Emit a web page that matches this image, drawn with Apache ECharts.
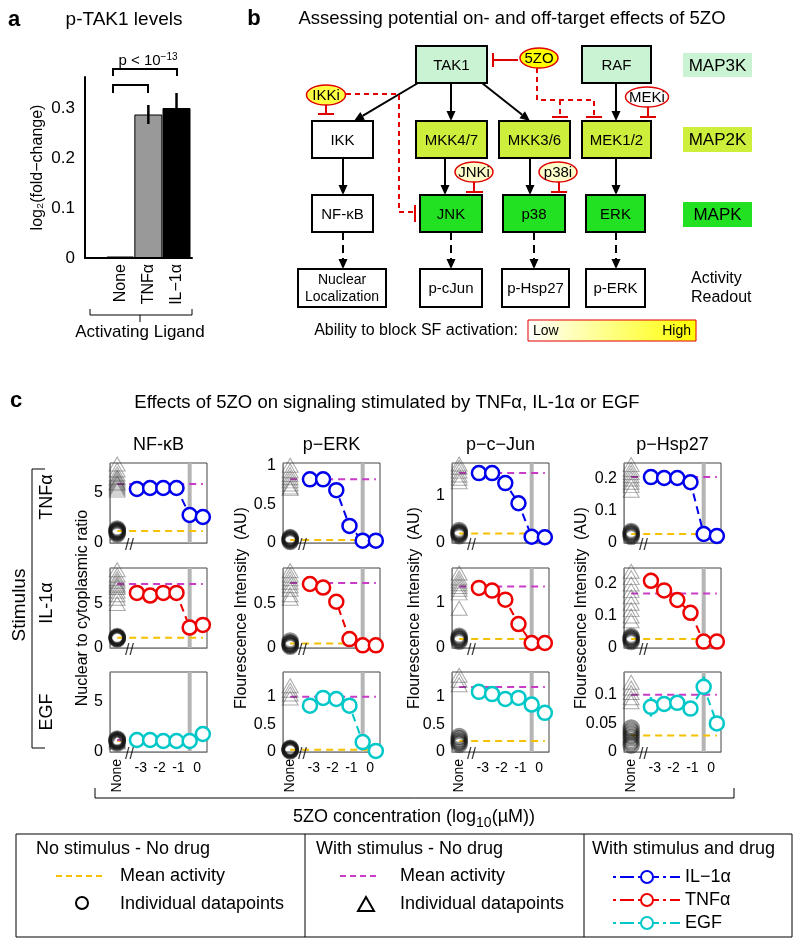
<!DOCTYPE html>
<html><head><meta charset="utf-8">
<script src="https://cdn.jsdelivr.net/npm/echarts@6/dist/echarts.min.js"></script>
<style>html,body{margin:0;padding:0;background:#fff}#c{width:798px;height:947px}</style>
</head><body><div id="c"></div>
<script>
const FONT = '"Liberation Sans", Arial, Helvetica, sans-serif';

// ---------------- Panel a data ----------------
const ligandLabels = ['None', 'TNFα', 'IL−1α'];
const ligandPos = [1, 2, 3];
const tak1Mean = [0.003, 0.287, 0.300];
const tak1Err = [0, 0.019, 0.030];
const tak1YTicks = [0, 0.1, 0.2, 0.3];

// ---------------- Panel c data ----------------
const readoutNames = ['NF-κB', 'p−ERK', 'p−c−Jun', 'p−Hsp27'];
const stimulusNames = ['TNFα', 'IL-1α', 'EGF'];
const doseLog10 = [-3.2, -2.5, -1.8, -1.1, -0.4, 0.3];
const noneX = -4.25;
const breakX = -3.6;
const chosenDose = -0.4;
const doseTicks = [-3, -2, -1, 0];

// drug response (rows: TNFα, IL-1α, EGF)
const respNFkB = [[5.4, 5.5, 5.5, 5.5, 2.8, 2.6], [6.2, 5.9, 6.2, 6.2, 2.3, 2.6], [1.2, 1.2, 1.1, 1.1, 1.1, 1.8]];
const respPERK = [[0.82, 0.82, 0.68, 0.22, 0.03, 0.03], [0.72, 0.68, 0.52, 0.10, 0.03, 0.03], [0.84, 0.98, 0.96, 0.84, 0.18, 0.02]];
const respPJun = [[1.46, 1.46, 1.25, 0.83, 0.13, 0.12], [1.33, 1.27, 1.07, 0.53, 0.11, 0.11], [1.09, 1.05, 0.96, 0.98, 0.86, 0.71]];
const respPHsp = [[0.206, 0.203, 0.203, 0.19, 0.028, 0.022], [0.21, 0.18, 0.15, 0.11, 0.02, 0.02], [0.079, 0.084, 0.086, 0.076, 0.114, 0.05]];

// with stimulus - no drug : mean and individual points
const stimMeanNFkB = [5.9, 7.2, 1.2];
const stimMeanPERK = [0.82, 0.73, 1.0];
const stimMeanPJun = [1.46, 1.36, 1.18];
const stimMeanPHsp = [0.206, 0.17, 0.1];
const stimPtsNFkB = [[7.9, 7.3, 6.9, 6.6, 6.3, 6.1, 5.9, 5.7, 5.5, 5.3, 6.0, 6.5], [8.8, 8.2, 7.8, 7.5, 7.2, 7.0, 6.8, 6.4, 6.0, 5.6, 5.0], [1.3, 1.2, 1.1, 1.0]];
const stimPtsPERK = [[1.0, 0.93, 0.88, 0.84, 0.80, 0.76, 0.72, 0.70], [0.87, 0.82, 0.78, 0.74, 0.70, 0.66, 0.60, 0.56], [1.2, 1.12, 1.05, 0.98]];
const stimPtsPJun = [[1.65, 1.58, 1.5, 1.42, 1.35, 1.28], [1.66, 1.55, 1.48, 1.42, 1.36, 1.3, 1.22, 0.88], [1.39, 1.3, 1.22]];
const stimPtsPHsp = [[0.245, 0.23, 0.22, 0.21, 0.20, 0.19, 0.18, 0.165], [0.24, 0.22, 0.2, 0.18, 0.16, 0.14, 0.12, 0.1, 0.085], [0.122, 0.112, 0.104, 0.095, 0.088]];

// no stimulus - no drug : mean and individual points
const baseMeanNFkB = [1.2, 1.15, 1.1];
const baseMeanPERK = [0.04, 0.05, 0.04];
const baseMeanPJun = [0.2, 0.2, 0.2];
const baseMeanPHsp = [0.028, 0.028, 0.029];
const basePtsNFkB = [[1.4, 1.3, 1.2, 1.1, 1.0, 0.9, 1.2], [1.3, 1.2, 1.1, 1.0, 1.2, 1.1], [1.3, 1.2, 1.1, 1.0, 0.9, 1.2]];
const basePtsPERK = [[0.07, 0.06, 0.05, 0.04, 0.03, 0.02], [0.08, 0.06, 0.05, 0.04, 0.03, 0.02], [0.07, 0.06, 0.05, 0.04, 0.03, 0.02]];
const basePtsPJun = [[0.26, 0.23, 0.2, 0.18, 0.15, 0.21], [0.26, 0.23, 0.2, 0.18, 0.15], [0.28, 0.24, 0.2, 0.17, 0.14]];
const basePtsPHsp = [[0.036, 0.032, 0.028, 0.024, 0.02], [0.036, 0.032, 0.028, 0.024, 0.02], [0.042, 0.036, 0.03, 0.025, 0.018, 0.012]];

// error bars: [dose index, low, high]
const errNFkB = [[], [[0, 5.6, 6.6]], []];
const errPERK = [[], [], [[0, 0.72, 0.86]]];
const errPJun = [[], [], []];
const errPHsp = [[[1, 0.19, 0.216]], [[0, 0.2, 0.235]], [[0, 0.062, 0.096], [4, 0.1, 0.132]]];

// axis ranges and ticks
const yMaxNFkB = [8, 9, 8], yTicksNFkB = [[0, 5], [0, 5], [0, 5]];
const yMaxPERK = [1.03, 0.9, 1.45], yTicksPERK = [[0, 0.5, 1], [0, 0.5], [0, 0.5, 1]];
const yMaxPJun = [1.67, 1.77, 1.45], yTicksPJun = [[0, 1], [0, 1], [0, 0.5, 1]];
const yMaxPHsp = [0.25, 0.25, 0.14], yTicksPHsp = [[0, 0.1, 0.2], [0, 0.1, 0.2], [0, 0.05, 0.1]];
const yAxisNames = ['Nuclear to cytoplasmic ratio', 'Flourescence Intensity  (AU)', 'Flourescence Intensity  (AU)', 'Flourescence Intensity  (AU)'];

const readouts = [
  {resp: respNFkB, sm: stimMeanNFkB, sp: stimPtsNFkB, bm: baseMeanNFkB, bp: basePtsNFkB, err: errNFkB, ymax: yMaxNFkB, yt: yTicksNFkB},
  {resp: respPERK, sm: stimMeanPERK, sp: stimPtsPERK, bm: baseMeanPERK, bp: basePtsPERK, err: errPERK, ymax: yMaxPERK, yt: yTicksPERK},
  {resp: respPJun, sm: stimMeanPJun, sp: stimPtsPJun, bm: baseMeanPJun, bp: basePtsPJun, err: errPJun, ymax: yMaxPJun, yt: yTicksPJun},
  {resp: respPHsp, sm: stimMeanPHsp, sp: stimPtsPHsp, bm: baseMeanPHsp, bp: basePtsPHsp, err: errPHsp, ymax: yMaxPHsp, yt: yTicksPHsp}
];

// ---------------- layout / style ----------------
const stimColors = ['#0000ee', '#ee0000', '#00c8c8'];
const colLeft = [110, 283, 452, 624], rowTop = [463, 568, 672], cellW = 97, cellH = 80;
const nameGaps = [19, 32, 29, 34];
const xMin = -4.63, xMax = 0.52;

const chart = echarts.init(document.getElementById('c'), null, {renderer: 'canvas', width: 798, height: 947});
const grids = [], xAxes = [], yAxes = [], series = [];

// Panel a
grids.push({left: 85, top: 77, width: 107, height: 181, outerBoundsMode: 'none', containLabel: false});
xAxes.push({gridIndex: 0, type: 'value', min: -0.25, max: 3.55,
  axisLine: {show: true, onZero: false, lineStyle: {color: '#000', width: 2}}, axisTick: {show: false}, splitLine: {show: false},
  axisLabel: {customValues: ligandPos, formatter: v => ligandLabels[Math.round(v) - 1] || '', rotate: 90, fontSize: 16, color: '#000', fontFamily: FONT, margin: 6}});
yAxes.push({gridIndex: 0, type: 'value', min: 0, max: 0.362,
  axisLine: {show: true, onZero: false, lineStyle: {color: '#000', width: 2}}, axisTick: {show: false}, splitLine: {show: false},
  axisLabel: {customValues: tak1YTicks, fontSize: 17, color: '#000', margin: 10, fontFamily: FONT},
  name: 'log₂(fold−change)', nameLocation: 'middle', nameGap: 39, nameTextStyle: {fontSize: 16, color: '#000', fontFamily: FONT}});
const barStyles = [
  {color: '#000', borderColor: '#000', borderWidth: 1.5},
  {color: '#999', borderColor: '#000', borderWidth: 1},
  {color: '#000', borderColor: '#000', borderWidth: 1}
];
series.push({type: 'bar', xAxisIndex: 0, yAxisIndex: 0, barWidth: 28,
  data: ligandPos.map((p, i) => ({value: [p, tak1Mean[i]], itemStyle: barStyles[i]})), z: 2});
series.push({type: 'custom', xAxisIndex: 0, yAxisIndex: 0, z: 3,
  data: ligandPos.map((p, i) => [p, tak1Mean[i] - tak1Err[i], tak1Mean[i] + tak1Err[i]]).filter((d, i) => tak1Err[i] > 0),
  renderItem: (params, api) => {
    const a = api.coord([api.value(0), api.value(1)]), b = api.coord([api.value(0), api.value(2)]);
    return {type: 'line', shape: {x1: a[0], y1: a[1], x2: b[0], y2: b[1]}, style: {stroke: '#000', lineWidth: 2.5}};
  }});

// Panel c (row-major so that grid / axis indices match)
for (let r = 0; r < 3; r++) {
  readouts.forEach((R, c) => {
    const gi = 1 + r * 4 + c;
    const col = stimColors[r];
    grids.push({left: colLeft[c], top: rowTop[r], width: cellW, height: cellH, show: true, borderColor: '#444', borderWidth: 1,
      backgroundColor: 'rgba(0,0,0,0)', outerBoundsMode: 'none', containLabel: false});
    xAxes.push({gridIndex: gi, type: 'value', min: xMin, max: xMax,
      axisLine: {show: true, onZero: false, lineStyle: {color: '#888', width: 1}}, axisTick: {show: false}, splitLine: {show: false},
      axisLabel: {show: r === 2, customValues: doseTicks, fontSize: 14, color: '#000', margin: 9, fontFamily: FONT, formatter: v => String(v)}});
    yAxes.push({gridIndex: gi, type: 'value', min: 0, max: R.ymax[r],
      axisLine: {show: true, onZero: false, lineStyle: {color: '#888', width: 1}}, axisTick: {show: false}, splitLine: {show: false},
      axisLabel: {customValues: R.yt[r], fontSize: 16, color: '#000', margin: 7, fontFamily: FONT},
      name: r === 1 ? yAxisNames[c] : '', nameLocation: 'middle', nameGap: nameGaps[c],
      nameTextStyle: {fontSize: 16, color: '#000', fontFamily: FONT}});
    const base = {xAxisIndex: gi, yAxisIndex: gi, silent: true};
    series.push(Object.assign({type: 'line', data: [[chosenDose, 0], [chosenDose, R.ymax[r]]], symbol: 'none',
      lineStyle: {color: '#b5b5b5', width: 4}, z: 1}, base));
    series.push(Object.assign({type: 'line', data: [[noneX, R.bm[r]], [doseLog10[5], R.bm[r]]], symbol: 'none',
      lineStyle: {color: '#f5c000', width: 2, type: [7, 5]}, z: 2}, base));
    series.push(Object.assign({type: 'line', data: [[noneX, R.sm[r]], [doseLog10[5], R.sm[r]]], symbol: 'none',
      lineStyle: {color: '#c83cc8', width: 2, type: [7, 5]}, z: 2}, base));
    series.push(Object.assign({type: 'scatter', data: R.sp[r].map(v => [noneX, v]), symbol: 'triangle', symbolSize: [16, 14],
      itemStyle: {color: 'rgba(0,0,0,0)', borderColor: 'rgba(60,60,60,0.55)', borderWidth: 1}, z: 3}, base));
    series.push(Object.assign({type: 'scatter', data: R.bp[r].map(v => [noneX, v]), symbol: 'circle', symbolSize: 14,
      itemStyle: {color: 'rgba(0,0,0,0)', borderColor: 'rgba(20,20,20,0.6)', borderWidth: 3.5}, z: 3}, base));
    if (R.err[r].length) {
      series.push(Object.assign({type: 'custom', z: 4, data: R.err[r].map(e => [doseLog10[e[0]], e[1], e[2]]),
        renderItem: (params, api) => {
          const a = api.coord([api.value(0), api.value(1)]), b = api.coord([api.value(0), api.value(2)]);
          return {type: 'line', shape: {x1: a[0], y1: a[1], x2: b[0], y2: b[1]}, style: {stroke: col, lineWidth: 2.5}};
        }}, base));
    }
    series.push(Object.assign({type: 'line', data: doseLog10.map((x, i) => [x, R.resp[r][i]]), symbol: 'circle', symbolSize: 14,
      itemStyle: {color: '#fff', borderColor: col, borderWidth: 2.5}, lineStyle: {color: col, width: 2, type: [8, 5]}, z: 5}, base));
    series.push(Object.assign({type: 'scatter', data: [[breakX, 0]], symbolSize: 0.01, itemStyle: {color: 'rgba(0,0,0,0)'},
      label: {show: true, formatter: '//', position: 'inside', fontSize: 16, color: '#000', offset: [0, 3], fontFamily: FONT}, z: 6}, base));
  });
}

chart.setOption({animation: false, backgroundColor: '#fff', grid: grids, xAxis: xAxes, yAxis: yAxes, series: series});

// ---------------- graphics (annotations, diagram, legend) ----------------
const elems = [];
function T(x, y, text, o = {}) {
  elems.push({type: 'text', x, y, rotation: o.rot || 0, z: 100,
    style: {text, fill: o.color || '#000', fontSize: o.size || 15, fontFamily: FONT, fontWeight: o.weight || 'normal',
      align: o.align || 'center', textAlign: o.align || 'center', verticalAlign: o.va || 'middle', textVerticalAlign: o.va || 'middle',
      rich: o.rich, lineHeight: o.lh}});
}
function L(x1, y1, x2, y2, o = {}) {
  elems.push({type: 'line', z: o.z || 60, shape: {x1, y1, x2, y2}, style: {stroke: o.color || '#000', lineWidth: o.w || 1, lineDash: o.dash || null}});
}
function PL(points, o = {}) {
  elems.push({type: 'polyline', z: o.z || 60, shape: {points}, style: {stroke: o.color || '#000', fill: 'none', lineWidth: o.w || 1, lineDash: o.dash || null}});
}
function PG(points, o = {}) {
  elems.push({type: 'polygon', z: o.z || 61, shape: {points}, style: {fill: o.fill === undefined ? '#000' : o.fill, stroke: o.stroke || null, lineWidth: o.w || 1}});
}
function RC(x, y, w, h, fill, o = {}) {
  elems.push({type: 'rect', z: o.z || 55, shape: {x, y, width: w, height: h}, style: {fill, stroke: o.stroke === undefined ? '#000' : o.stroke, lineWidth: o.w == null ? 2 : o.w}});
}
function EL(cx, cy, rx, ry, fill, label, o = {}) {
  elems.push({type: 'ellipse', z: 62, shape: {cx, cy, rx, ry}, style: {fill, stroke: '#e00000', lineWidth: 1.5}});
  if (label) T(cx, cy + 1, label, {size: o.size || 15});
}
function arrow(x1, y1, x2, y2, dash) {
  const a = Math.atan2(y2 - y1, x2 - x1), hl = 10, hw = 4.5;
  const bx = x2 - hl * Math.cos(a), by = y2 - hl * Math.sin(a);
  L(x1, y1, bx, by, {w: 2, dash});
  PG([[x2, y2], [bx + hw * Math.sin(a), by - hw * Math.cos(a)], [bx - hw * Math.sin(a), by + hw * Math.cos(a)]]);
}
function box(x, y, w, h, fill, label, o = {}) {
  RC(x, y, w, h, fill, {stroke: o.noStroke ? null : '#000', w: o.noStroke ? 0 : 2});
  T(x + w / 2, y + h / 2 + 1, label, {size: o.size || 15, lh: o.lh});
}
const RED = '#e00000';

// Panel a annotations
T(14, 20, 'a', {size: 22, weight: 'bold'});
T(124, 20, 'p-TAK1 levels', {size: 19});
T(148, 61, 'p < 10{s|−13}', {size: 15, rich: {s: {fontSize: 10, fontFamily: FONT, padding: [0, 0, 8, 0]}}});
PL([[113, 76], [113, 69], [177, 69], [177, 76]], {w: 2});
PL([[113, 93], [113, 85], [148, 85], [148, 93]], {w: 2});
PL([[90, 309], [90, 315], [192, 315], [192, 309]], {w: 1});
L(140, 315, 140, 322);
T(140, 332, 'Activating Ligand', {size: 17});

// Panel b
T(254, 19, 'b', {size: 22, weight: 'bold'});
T(512, 19, 'Assessing potential on- and off-target effects of 5ZO', {size: 18.5});
const C3 = '#caf3d3', C2 = '#cdef3b', C1 = '#22e022';
box(416, 46, 71, 37, C3, 'TAK1');
box(582, 46, 69, 37, C3, 'RAF');
box(683, 53, 69, 24, C3, 'MAP3K', {noStroke: true, size: 17});
box(312, 121, 61, 37, '#fff', 'IKK');
box(416, 121, 71, 37, C2, 'MKK4/7');
box(499, 121, 71, 37, C2, 'MKK3/6');
box(582, 121, 69, 37, C2, 'MEK1/2');
box(683, 127, 69, 25, C2, 'MAP2K', {noStroke: true, size: 17});
box(312, 195, 61, 37, '#fff', 'NF-κB');
box(420, 195, 62, 37, C1, 'JNK');
box(503, 195, 62, 37, C1, 'p38');
box(586, 195, 59, 37, C1, 'ERK');
box(683, 202, 69, 25, C1, 'MAPK', {noStroke: true, size: 17});
box(298, 269, 88, 38, '#fff', 'Nuclear\nLocalization', {size: 14, lh: 17});
box(420, 269, 62, 38, '#fff', 'p-cJun');
box(502, 269, 67, 38, '#fff', 'p-Hsp27');
box(586, 269, 59, 38, '#fff', 'p-ERK');
T(691, 279, 'Activity', {size: 16, align: 'left'});
T(691, 298, 'Readout', {size: 16, align: 'left'});
arrow(418, 83, 354, 121);
arrow(451, 83, 451, 121);
arrow(482, 83, 530, 121);
arrow(616, 83, 616, 121);
arrow(343, 158, 343, 195);
arrow(445, 158, 445, 195);
arrow(530, 158, 530, 195);
arrow(616, 158, 616, 195);
arrow(343, 232, 343, 269, [8, 5]);
arrow(451, 232, 451, 269, [8, 5]);
arrow(534, 232, 534, 269, [8, 5]);
arrow(616, 232, 616, 269, [8, 5]);
// inhibitors
EL(539, 58, 19, 10, '#ffff00', '5ZO');
L(518, 60, 493, 60, {color: RED, w: 2});
L(493, 53, 493, 67, {color: RED, w: 2});
PL([[537, 68], [537, 100], [594, 100], [594, 117]], {color: RED, w: 2, dash: [5, 4]});
L(560, 100, 560, 117, {color: RED, w: 2, dash: [5, 4]});
L(552, 117, 568, 117, {color: RED, w: 2});
L(586, 117, 602, 117, {color: RED, w: 2});
EL(326, 95, 19.5, 10, '#ffff44', 'IKKi');
L(326, 105, 326, 114, {color: RED, w: 2});
L(318, 114, 334, 114, {color: RED, w: 2});
PL([[346, 94], [399, 94], [399, 212], [414, 212]], {color: RED, w: 2, dash: [5, 4]});
L(415, 205, 415, 222, {color: RED, w: 2});
EL(647, 97, 21.5, 10, '#fff', 'MEKi');
L(648, 107, 648, 117, {color: RED, w: 2});
L(640, 117, 656, 117, {color: RED, w: 2});
EL(474, 172, 19, 10, '#ffffcc', 'JNKi');
L(474, 182, 474, 192, {color: RED, w: 2});
L(466, 192, 483, 192, {color: RED, w: 2});
EL(558, 172, 19, 10, '#ffffcc', 'p38i');
L(559, 182, 559, 192, {color: RED, w: 2});
L(551, 192, 567, 192, {color: RED, w: 2});
T(416, 331, 'Ability to block SF activation:', {size: 16});
elems.push({type: 'rect', z: 55, shape: {x: 528, y: 320, width: 168, height: 21},
  style: {fill: new echarts.graphic.LinearGradient(0, 0, 1, 0, [{offset: 0, color: '#ffffff'}, {offset: 1, color: '#ffff00'}]), stroke: RED, lineWidth: 1}});
T(533, 331, 'Low', {size: 14, align: 'left'});
T(691, 331, 'High', {size: 14, align: 'right'});

// Panel c annotations
T(16, 401, 'c', {size: 22, weight: 'bold'});
T(387, 403, 'Effects of 5ZO on signaling stimulated by TNFα, IL-1α or EGF', {size: 18.5});
readoutNames.forEach((n, c) => T(colLeft[c] + cellW / 2, 445, n, {size: 18}));
T(47, 497, stimulusNames[0], {size: 18, rot: Math.PI / 2});
T(47, 603, stimulusNames[1], {size: 18, rot: Math.PI / 2});
T(47, 712, stimulusNames[2], {size: 18, rot: Math.PI / 2});
T(20, 605, 'Stimulus', {size: 19, rot: Math.PI / 2});
PL([[45, 469], [32, 469], [32, 748], [45, 748]]);
for (let c = 0; c < 4; c++) {
  const p = chart.convertToPixel({gridIndex: 1 + 2 * 4 + c}, [noneX, 0]);
  T(p[0], p[1] + 7, 'None', {size: 14, rot: Math.PI / 2, align: 'right'});
}
PL([[95, 788], [95, 798], [734, 798], [734, 788]]);
T(414, 817, '5ZO concentration (log{s|10}(µM))', {size: 18, rich: {s: {fontSize: 14, fontFamily: FONT, padding: [13, 0, 0, 0]}}});

// Legend box
RC(16, 834, 776, 103, 'rgba(0,0,0,0)', {w: 1});
L(305, 834, 305, 937);
L(584, 834, 584, 937);
T(36, 849, 'No stimulus - No drug', {size: 18, align: 'left'});
L(56, 876, 105, 876, {color: '#f5c000', w: 2, dash: [6, 4]});
T(120, 876, 'Mean activity', {size: 18, align: 'left'});
elems.push({type: 'circle', z: 62, shape: {cx: 82, cy: 903, r: 6}, style: {fill: 'rgba(0,0,0,0)', stroke: '#000', lineWidth: 2}});
T(120, 904, 'Individual datapoints', {size: 18, align: 'left'});
T(316, 849, 'With stimulus - No drug', {size: 18, align: 'left'});
L(340, 876, 379, 876, {color: '#c83cc8', w: 2, dash: [6, 4]});
T(400, 876, 'Mean activity', {size: 18, align: 'left'});
PG([[366, 897], [358, 911], [374, 911]], {fill: 'rgba(0,0,0,0)', stroke: '#000', w: 2});
T(400, 904, 'Individual datapoints', {size: 18, align: 'left'});
T(592, 849, 'With stimulus and drug', {size: 18, align: 'left'});
const legendSeries = [['IL−1α', '#0000ee', 877], ['TNFα', '#ee0000', 900], ['EGF', '#00c8c8', 923]];
legendSeries.forEach(([name, col, y]) => {
  L(613, y, 680, y, {color: col, w: 2, dash: [3, 4, 14, 4]});
  elems.push({type: 'circle', z: 62, shape: {cx: 647, cy: y, r: 6}, style: {fill: '#fff', stroke: col, lineWidth: 2}});
  T(685, y, name, {size: 18, align: 'left'});
});

chart.setOption({graphic: {elements: elems}});
</script>
</body></html>
